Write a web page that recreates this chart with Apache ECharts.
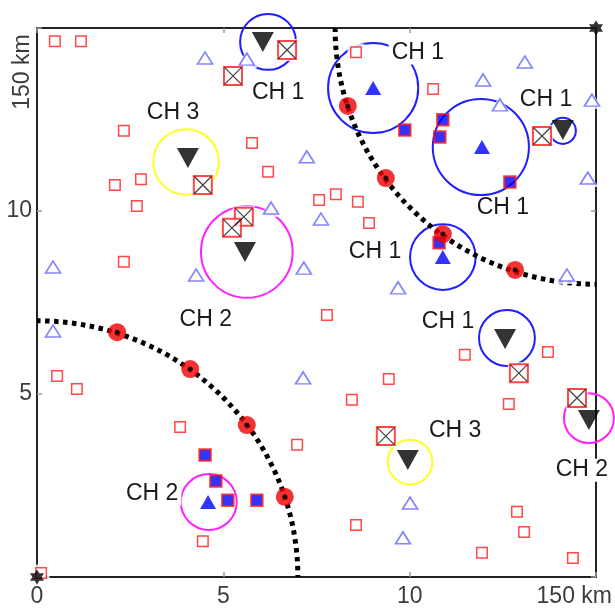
<!DOCTYPE html>
<html>
<head>
<meta charset="utf-8">
<script src="https://cdn.jsdelivr.net/npm/echarts@6/dist/echarts.min.js"></script>
<style>
  html, body { margin: 0; padding: 0; background: #fff; }
  #chart { width: 615px; height: 613px; }
</style>
</head>
<body>
<div id="chart"></div>
<script>
// Field extent (in units of 10 km) and axis tick step
const fieldMax = 15;
const tickStep = 5;
const edgeLabel = '150 km';

// Sink stations at two opposite corners of the field
const sinks = [[0, 0], [15, 15]];

// Ordinary sensor nodes
const plainNodes = [
  [0.48, 14.64], [1.18, 14.64], [2.33, 12.19], [2.09, 10.71], [2.79, 10.87],
  [2.68, 10.14], [2.33, 8.61], [5.77, 11.86], [6.20, 11.07], [8.56, 14.34],
  [10.63, 13.33], [7.57, 10.30], [8.02, 10.46], [8.61, 10.25], [8.91, 9.67],
  [7.78, 7.16], [0.54, 5.49], [1.07, 5.14], [3.84, 4.10], [6.98, 3.61],
  [4.45, 0.98], [9.44, 5.41], [8.45, 4.84], [11.48, 6.07], [13.71, 6.15],
  [12.66, 4.73], [8.56, 1.42], [11.94, 0.66], [12.88, 1.78], [13.07, 1.23],
  [14.38, 0.52], [0.11, 0.11]
];

// Listening nodes (outlined triangles)
const listenerNodes = [
  [0.43, 8.47], [0.43, 6.72], [4.27, 8.25], [6.28, 10.08], [7.24, 11.48],
  [7.62, 9.78], [7.16, 8.44], [7.14, 5.44], [9.69, 7.90], [10.01, 2.02],
  [9.82, 1.07], [14.22, 8.25], [14.78, 10.90], [14.89, 13.03], [13.09, 14.07],
  [11.97, 13.58], [12.42, 12.90], [4.51, 14.18], [5.63, 14.15]
];

// Nodes joined to a cluster (filled squares)
const linkedNodes = [
  [9.87, 12.21], [10.89, 12.49], [10.81, 12.02], [12.69, 10.79], [10.79, 9.13],
  [4.51, 3.33], [4.80, 2.62], [5.12, 2.10], [5.90, 2.10]
];

// Cluster centres (filled triangles)
const centreNodes = [
  [9.02, 13.36], [11.94, 11.75], [10.89, 8.74], [4.59, 2.05]
];

// Cluster heads (inverted triangles)
const clusterHeads = [
  [6.06, 14.62], [14.11, 12.21], [4.05, 11.45], [5.58, 8.88],
  [12.56, 6.50], [14.81, 4.29], [9.95, 3.20]
];

// Blocked nodes (crossed squares)
const blockedNodes = [
  [6.71, 14.40], [5.26, 13.69], [13.55, 12.05], [4.45, 10.71], [5.55, 9.84],
  [5.23, 9.54], [12.93, 5.57], [14.49, 4.89], [9.36, 3.85]
];

// Nodes sitting on the sink coverage boundaries
const boundaryNodes = [
  [8.34, 12.87], [9.36, 10.90], [10.89, 9.37], [12.83, 8.39],
  [2.15, 6.69], [4.11, 5.68], [5.63, 4.15], [6.65, 2.19]
];

// Sink coverage boundaries: centre x, centre y, radius
const boundaryArcs = [[0, 0, 7], [15, 15, 7]];

// Cluster ranges: centre x, centre y, radius, channel
const rangeCircles = [
  [6.20, 14.62, 0.75, 1], [9.02, 13.36, 1.21, 1], [11.91, 11.75, 1.29, 1],
  [14.11, 12.19, 0.35, 1], [10.89, 8.74, 0.88, 1], [12.61, 6.53, 0.75, 1],
  [4.00, 11.34, 0.88, 3], [10.01, 3.14, 0.60, 3],
  [5.63, 8.88, 1.23, 2], [4.61, 2.05, 0.75, 2], [14.81, 4.34, 0.67, 2]
];

// Channel tags: x, y, text
const channelTags = [
  [6.47, 13.22, 'CH 1'], [10.22, 14.32, 'CH 1'], [13.66, 13.03, 'CH 1'],
  [3.65, 12.68, 'CH 3'], [12.50, 10.08, 'CH 1'], [9.07, 8.88, 'CH 1'],
  [4.53, 7.02, 'CH 2'], [11.03, 6.99, 'CH 1'], [11.22, 3.99, 'CH 3'],
  [3.09, 2.27, 'CH 2'], [14.62, 2.92, 'CH 2']
];

const channelColors = { 1: '#1f1fff', 2: '#ff22ff', 3: '#ffff22' };
const FONT = '"Liberation Sans", Arial, sans-serif';
const STAR = 'path://M0,-10 L8.66,5 L-8.66,5 Z M0,10 L-8.66,-5 L8.66,-5 Z';
const CROSS = 'path://M0,0 L10,10 M10,0 L0,10';

const chart = echarts.init(document.getElementById('chart'), null, { renderer: 'canvas' });

const axisBase = {
  type: 'value', min: 0, max: fieldMax, interval: tickStep,
  axisLine: { show: true, onZero: false, lineStyle: { color: '#222', width: 2 } },
  axisTick: { show: true, inside: true, length: 5, lineStyle: { color: '#999', width: 1.5 } },
  splitLine: { show: false }
};
const labelStyle = { color: '#3c3c3c', fontSize: 23, fontFamily: FONT };

// white knock-out behind a marker set, so range rings break around the marks
function halo(data, symbol, size) {
  return { type: 'scatter', data: data, symbol: symbol, symbolSize: size, silent: true,
    itemStyle: { color: '#fff' } };
}
function marks(data, symbol, size, itemStyle, extra) {
  return Object.assign({ type: 'scatter', data: data, symbol: symbol, symbolSize: size,
    silent: true, itemStyle: itemStyle }, extra || {});
}

chart.setOption({
  animation: false,
  backgroundColor: '#fff',
  grid: { left: 37, top: 28, right: 19, bottom: 36, containLabel: false },
  xAxis: [
    Object.assign({}, axisBase, {
      position: 'bottom',
      axisLabel: Object.assign({ margin: 8, formatter: v => (v === fieldMax ? '' : String(v)) }, labelStyle)
    }),
    Object.assign({}, axisBase, { position: 'top', axisLabel: { show: false } })
  ],
  yAxis: [
    Object.assign({}, axisBase, {
      position: 'left',
      axisLabel: Object.assign({ margin: 5, formatter: v => (v === 0 || v === fieldMax ? '' : String(v)) }, labelStyle)
    }),
    Object.assign({}, axisBase, { position: 'right', axisLabel: { show: false } })
  ],
  graphic: [
    { type: 'text', x: 612, y: 597, silent: true,
      style: { text: edgeLabel, align: 'right', verticalAlign: 'middle', fill: '#3c3c3c', font: '23px ' + FONT } },
    { type: 'text', x: 23, y: 72, rotation: Math.PI / 2, silent: true,
      style: { text: edgeLabel, align: 'center', verticalAlign: 'middle', fill: '#3c3c3c', font: '23px ' + FONT } }
  ],
  series: [
    {
      // cluster range rings
      type: 'custom', data: rangeCircles, silent: true,
      renderItem: (params, api) => {
        const c = api.coord([api.value(0), api.value(1)]);
        const r = api.size([api.value(2), 0])[0];
        return { type: 'circle', shape: { cx: c[0], cy: c[1], r: r },
          style: { fill: 'none', stroke: channelColors[api.value(3)], lineWidth: 2 } };
      }
    },
    halo(plainNodes, 'rect', 17),
    halo(listenerNodes, 'triangle', [21, 18]),
    halo(blockedNodes, 'rect', 22),
    {
      // sink coverage boundaries
      type: 'custom', data: boundaryArcs, clip: true, silent: true,
      renderItem: (params, api) => {
        const c = api.coord([api.value(0), api.value(1)]);
        const s = api.size([api.value(2), api.value(2)]);
        return { type: 'ellipse', shape: { cx: c[0], cy: c[1], rx: s[0], ry: s[1] },
          style: { fill: 'none', stroke: '#000', lineWidth: 5, lineDash: [4.5, 4.5] } };
      }
    },
    marks(plainNodes, 'rect', 10.5, { color: '#fff', borderColor: '#ff1a1a', borderWidth: 1.5 }),
    marks(listenerNodes, 'triangle', [15, 12], { color: '#fff', borderColor: '#6464ff', borderWidth: 1.6 }),
    marks(linkedNodes, 'rect', 11.5, { color: '#0000ff', borderColor: '#ff1a1a', borderWidth: 2 }),
    marks(centreNodes, 'triangle', [16, 14], { color: '#0000ff' }),
    marks(blockedNodes, 'rect', 18, { color: '#fff', borderColor: '#ff1a1a', borderWidth: 2 }),
    marks(blockedNodes, CROSS, 17, { color: 'none', borderColor: '#111', borderWidth: 1.2 }),
    marks(boundaryNodes, 'circle', 18, { color: '#f00000' }),
    marks(boundaryNodes, 'circle', 5, { color: '#000' }),
    marks(clusterHeads, 'triangle', [22, 20], { color: '#000' }, { symbolRotate: 180 }),
    marks(sinks, STAR, [14, 15], { color: '#000' }),
    {
      // channel tags
      type: 'custom', data: channelTags.map(t => [t[0], t[1]]), silent: true,
      renderItem: (params, api) => {
        const p = api.coord([api.value(0), api.value(1)]);
        return { type: 'text', x: p[0], y: p[1],
          style: { text: channelTags[params.dataIndex][2], align: 'center', verticalAlign: 'middle',
            fill: '#1a1a1a', font: '23px ' + FONT, backgroundColor: '#fff', padding: [0, 3] } };
      }
    }
  ]
});
</script>
</body>
</html>
